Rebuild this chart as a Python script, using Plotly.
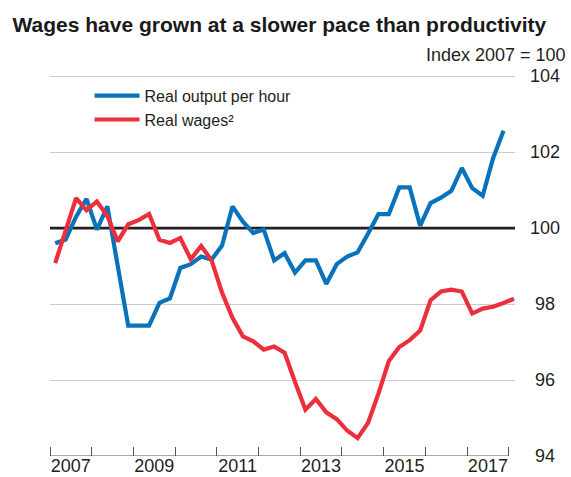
import plotly.graph_objects as go

# Quarterly series, 2007Q1 onwards (index 2007 = 100)
output_quarters = [f"{y}Q{q}" for y in range(2007, 2018) for q in range(1, 5)]
wage_quarters = output_quarters + ["2018Q1"]

real_output_per_hour = [
    99.60, 99.70, 100.30, 100.77, 99.96, 100.57, 99.00, 97.43,
    97.43, 97.43, 98.03, 98.15, 98.95, 99.05, 99.25, 99.17,
    99.54, 100.57, 100.17, 99.87, 99.96, 99.15, 99.34, 98.83,
    99.15, 99.15, 98.53, 99.05, 99.25, 99.36, 99.85, 100.37,
    100.37, 101.07, 101.07, 100.06, 100.66, 100.80, 100.98, 101.58,
    101.05, 100.85, 101.84, 102.56,
]
real_wages = [
    99.08, 99.95, 100.79, 100.47, 100.70, 100.32, 99.65, 100.10,
    100.21, 100.37, 99.69, 99.61, 99.74, 99.18, 99.53, 99.15,
    98.30, 97.64, 97.15, 97.02, 96.80, 96.88, 96.72, 95.95,
    95.22, 95.50, 95.15, 94.97, 94.67, 94.47, 94.87, 95.64,
    96.50, 96.87, 97.05, 97.30, 98.10, 98.33, 98.38, 98.33,
    97.75, 97.88, 97.93, 98.03, 98.14,
]

year_labels = ["2007", "2009", "2011", "2013", "2015", "2017"]
y_ticks = [94, 96, 98, 100, 102, 104]
baseline = 100

BLUE = "#0872bb"
RED = "#ec2f3b"
TEXT = "#231f20"
FONT = "Liberation Sans, Arial, sans-serif"


def quarter_to_x(label):
    year, q = label.split("Q")
    return int(year) + (int(q) - 0.5) / 4


x_out = [quarter_to_x(q) for q in output_quarters]
x_wage = [quarter_to_x(q) for q in wage_quarters]

fig = go.Figure()
fig.add_trace(go.Scatter(
    x=x_out, y=real_output_per_hour, mode="lines", name="Real output per hour",
    line=dict(color=BLUE, width=4.2), legendgroup="a",
))
fig.add_trace(go.Scatter(
    x=x_wage, y=real_wages, mode="lines", name="Real wages²",
    line=dict(color=RED, width=4.2), legendgroup="b",
))

first_year = 2007
last_year = 2018
x_range = [first_year, last_year + 0.15]
y_range = [94, 104.03]

# Baseline at 100
fig.add_shape(type="line", xref="paper", x0=0, x1=1, yref="y", y0=baseline, y1=baseline,
              line=dict(color=TEXT, width=2.6), layer="between")
# Bottom axis line, spanning the labelled years
fig.add_shape(type="line", xref="x", x0=first_year, x1=last_year, yref="y",
              y0=y_ticks[0], y1=y_ticks[0], line=dict(color="#555555", width=1.2),
              layer="above")

fig.update_layout(
    width=571, height=477,
    margin=dict(l=50, r=56, t=75, b=21),
    paper_bgcolor="white", plot_bgcolor="white",
    font=dict(family=FONT, color=TEXT, size=18),
    title=dict(
        text="<b>Wages have grown at a slower pace than productivity</b>",
        font=dict(size=21, family=FONT, color="#1a1a1a"),
        xref="container", x=0.022, xanchor="left",
        yref="container", y=1 - 25 / 477, yanchor="middle",
        automargin=False,
    ),
    showlegend=True,
    legend=dict(
        x=0.085, y=0.99, xanchor="left", yanchor="top",
        font=dict(size=16, family=FONT, color=TEXT),
        bgcolor="rgba(0,0,0,0)", itemwidth=45, tracegroupgap=7,
        traceorder="normal",
    ),
    xaxis=dict(
        range=x_range, showgrid=False, zeroline=False, showline=False,
        automargin=False,
        tickmode="array",
        tickvals=[int(y) + 0.5 for y in year_labels],
        ticktext=year_labels, ticks="",
        tickfont=dict(size=18, family=FONT, color=TEXT),
        ticklabelstandoff=-3,
        minor=dict(tickmode="array",
                   tickvals=list(range(first_year, last_year + 1)),
                   ticks="inside", ticklen=9, tickcolor="#555555",
                   tickwidth=1.2, showgrid=False),
        fixedrange=True,
    ),
    yaxis=dict(
        range=y_range, side="right", showgrid=False, zeroline=False,
        showline=False, ticks="", automargin=False,
        tickmode="array", tickvals=y_ticks,
        ticktext=[("\u00a0" + str(v)) if v < 100 else str(v) for v in y_ticks],
        tickfont=dict(size=18, family=FONT, color=TEXT),
        ticklabelstandoff=14,
        minor=dict(tickmode="array",
                   tickvals=[v for v in y_ticks if v != baseline],
                   ticks="", showgrid=True, gridcolor="#cccccc", gridwidth=1),
        fixedrange=True,
    ),
    annotations=[dict(
        text="Index 2007 = 100", xref="paper", yref="paper",
        x=(568 - 50) / 465, y=(456 - 55) / 381, xanchor="right", yanchor="middle",
        showarrow=False, font=dict(size=18, family=FONT, color=TEXT),
    )],
)

fig.write_html("out.html")
